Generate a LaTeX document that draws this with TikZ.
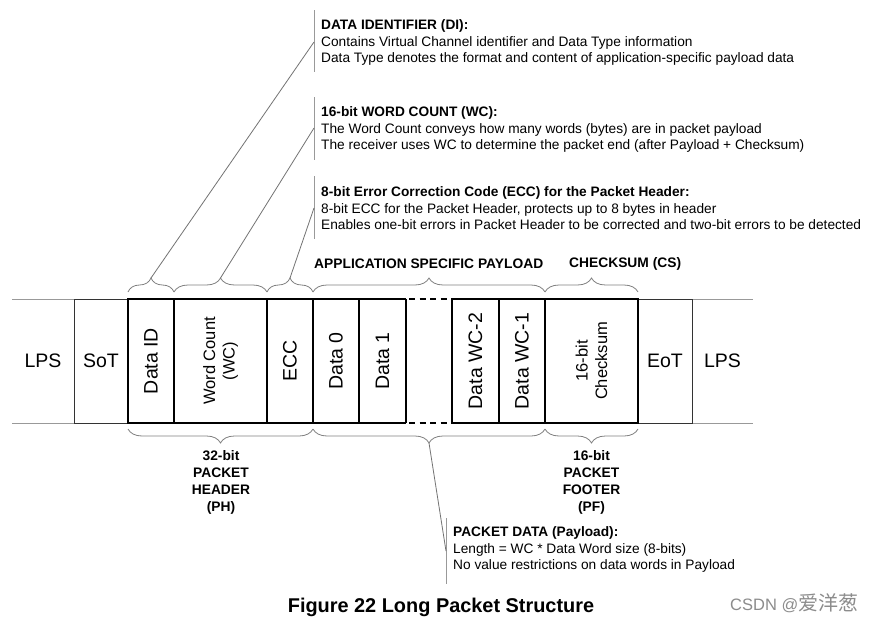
\documentclass[tikz,border=0pt]{standalone}
\usepackage{fontspec}
\setmainfont{Liberation Sans}
\newfontfamily\cjkfont{Noto Sans CJK SC}
\usetikzlibrary{decorations.pathreplacing}
\begin{document}
\begin{tikzpicture}[x=1pt,y=-1pt,
  thickline/.style={line width=2pt, black},
  midline/.style={line width=1.2pt, black},
  thinline/.style={line width=0.9pt, black!80},
  extline/.style={line width=1pt, black!40},
  bracestyle/.style={draw=black!50, line width=0.8pt, decorate, decoration={brace, amplitude=14pt}},
  leader/.style={draw=black!55, line width=0.8pt},
  barline/.style={draw=black!40, line width=1pt},
  bigtext/.style={font=\fontsize{19.5}{23}\selectfont, inner sep=0pt},
  rottext/.style={rotate=90, font=\fontsize{19.5}{23}\selectfont, inner sep=0pt},
  rotsmall/.style={rotate=90, align=center, font=\fontsize{16.5}{19.5}\selectfont, inner sep=0pt},
  desc/.style={anchor=west, align=left, font=\fontsize{13.7}{16.5}\selectfont, inner sep=0pt},
  hdr/.style={font=\bfseries\fontsize{13.8}{17}\selectfont, align=center, inner sep=0pt},
]
\useasboundingbox (0,0) rectangle (875,621);
\fill[white] (0,0) rectangle (875,621);

% extension lines (LPS)
\draw[extline] (12,299) -- (74,299);
\draw[extline] (12,423) -- (74,423);
\draw[extline] (692,299) -- (753,299);
\draw[extline] (692,423) -- (753,423);

% SoT / EoT
\draw[thinline] (128,299) -- (74,299) -- (74,423) -- (128,423);
\draw[thinline] (638,299) -- (692,299) -- (692,423) -- (638,423);

% inner dividers
\foreach \xx in {174,267,359,499} \draw[midline] (\xx,299) -- (\xx,423);

% thick frames
\draw[thickline] (406,299) -- (128,299) -- (128,423) -- (406,423);
\draw[thickline] (313,299) -- (313,423);
\draw[thickline] (406,299) -- (406,423);
\draw[thickline] (452,299) -- (638,299) -- (638,423) -- (452,423) -- cycle;
\draw[thickline] (545,299) -- (545,423);
\draw[thickline, dash pattern=on 6pt off 4.5pt, dash phase=-3pt] (406,299) -- (452,299);
\draw[thickline, dash pattern=on 6pt off 4.5pt, dash phase=-3pt] (406,423) -- (452,423);

% cell texts
\node[bigtext] (lps1) at (43,361) {LPS};
\node[bigtext] (sot) at (101,361) {SoT};
\node[rottext] (did) at (151,361) {Data ID};
\node[rotsmall] (wc) at (220.5,361) {Word Count\\(WC)};
\node[rottext] (ecc) at (290,361) {ECC};
\node[rottext] (d0) at (336,361) {Data 0};
\node[rottext] (d1) at (382.5,361) {Data 1};
\node[rottext] (dwc2) at (475.5,361) {Data WC-2};
\node[rottext] (dwc1) at (522,361) {Data WC-1};
\node[rotsmall] (cs) at (591.5,361) {16-bit\\Checksum};
\node[bigtext] (eot) at (665,361) {EoT};
\node[bigtext] (lps2) at (722.5,361) {LPS};

% top braces
\draw[bracestyle] (128,292) -- (174,292);
\draw[bracestyle] (174,292) -- (267,292);
\draw[bracestyle] (267,292) -- (313,292);
\draw[bracestyle] (313,292) -- (545,292);
\draw[bracestyle] (545,292) -- (638,292);
\coordinate (tdi) at (151,278);
\coordinate (twc) at (220.5,278);
\coordinate (tecc) at (290,278);

% bottom braces
\draw[bracestyle] (313,429) -- (128,429);
\draw[bracestyle] (545,429) -- (313,429);
\draw[bracestyle] (638,429) -- (545,429);
\coordinate (tpay) at (429,443);

% description bars
\coordinate (bdi) at (314,42);
\coordinate (bwc) at (314,128);
\coordinate (becc) at (314,208);
\coordinate (bpay) at (446,551);
\draw[barline] (314,10) -- (314,72);
\draw[barline] (314,97) -- (314,160);
\draw[barline] (314,176) -- (314,239);
\draw[barline] (446,518) -- (446,584);

% leaders
\draw[leader] (tdi) -- (bdi);
\draw[leader] (twc) -- (bwc);
\draw[leader] (tecc) -- (becc);
\draw[leader] (tpay) -- (bpay);

% descriptions
\node[desc] (ddi) at (321,42.5) {\textbf{DATA IDENTIFIER (DI):}\\Contains Virtual Channel identifier and Data Type information\\Data Type denotes the format and content of application-specific payload data};
\node[desc] (dwc) at (321,129.5) {\textbf{16-bit WORD COUNT (WC):}\\The Word Count conveys how many words (bytes) are in packet payload\\The receiver uses WC to determine the packet end (after Payload + Checksum)};
\node[desc] (decc) at (321,208.5) {\textbf{8-bit Error Correction Code (ECC) for the Packet Header:}\\8-bit ECC for the Packet Header, protects up to 8 bytes in header\\Enables one-bit errors in Packet Header to be corrected and two-bit errors to be detected};
\node[desc] (dpay) at (453,549.5) {\textbf{PACKET DATA (Payload):}\\Length = WC * Data Word size (8-bits)\\No value restrictions on data words in Payload};

% headers
\node[hdr, anchor=west] (asp) at (314,264) {APPLICATION SPECIFIC PAYLOAD};
\node[hdr, anchor=west] (csh) at (569,264) {CHECKSUM (CS)};
\node[hdr] (ph) at (221,482) {32-bit\\PACKET\\HEADER\\(PH)};
\node[hdr] (pf) at (591.5,482) {16-bit\\PACKET\\FOOTER\\(PF)};

% caption
\node[font=\bfseries\fontsize{19.9}{23}\selectfont, inner sep=0pt] (cap) at (441,607) {Figure 22 Long Packet Structure};
\node[font=\fontsize{16.5}{19}\selectfont, text=black!45, inner sep=0pt, anchor=west] (wm) at (730,603) {CSDN @{\cjkfont\fontsize{20}{21}\selectfont 爱洋葱}};
\end{tikzpicture}
\end{document}
